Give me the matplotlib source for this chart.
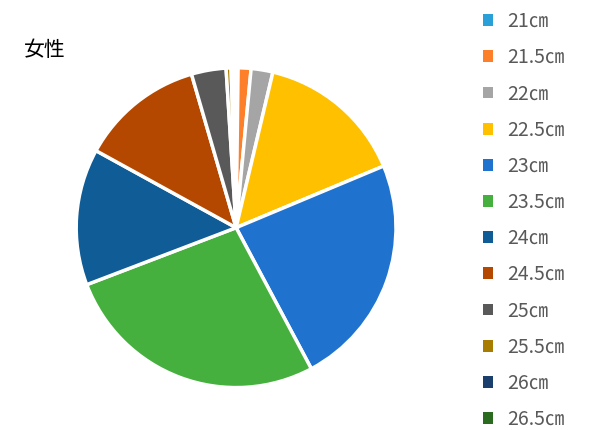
import matplotlib
matplotlib.use("Agg")
from matplotlib import pyplot as plt
from matplotlib.patches import Patch

plt.rcParams['font.family'] = ['Noto Sans CJK JP', 'DejaVu Sans']

sizes = ["21", "21.5", "22", "22.5", "23", "23.5", "24", "24.5", "25", "25.5", "26", "26.5"]
shares = [0.2, 1.3, 2.2, 15.0, 23.5, 27.0, 13.8, 12.5, 3.5, 0.5, 0.3, 0.2]
colors = ["#2aa0d8", "#fd7f2a", "#a5a5a5", "#ffc000", "#1f73ce", "#45b03d",
          "#0f5c96", "#b54800", "#595959", "#a87c00", "#1a3f6d", "#2b6b20"]

fig = plt.figure(figsize=(6, 4.3), dpi=100)
ax = fig.add_axes([0.127, 0.0985, 0.533, 0.744])
ax.pie(shares, colors=colors, startangle=90, counterclock=False,
       wedgeprops=dict(edgecolor="white", linewidth=2.5))
ax.set_xlim(-1, 1)
ax.set_ylim(-1, 1)

fig.text(0.04, 0.87, "女性", fontsize=15)

handles = [Patch(facecolor=c) for c in colors]
labels = [s + "㎝" for s in sizes]
fig.legend(handles, labels, loc="upper left", bbox_to_anchor=(0.775, 1.015),
           frameon=False, fontsize=14, handlelength=0.55, handleheight=0.55,
           labelspacing=0.78, handletextpad=0.7, labelcolor="#595959")

fig.savefig("out.png")
